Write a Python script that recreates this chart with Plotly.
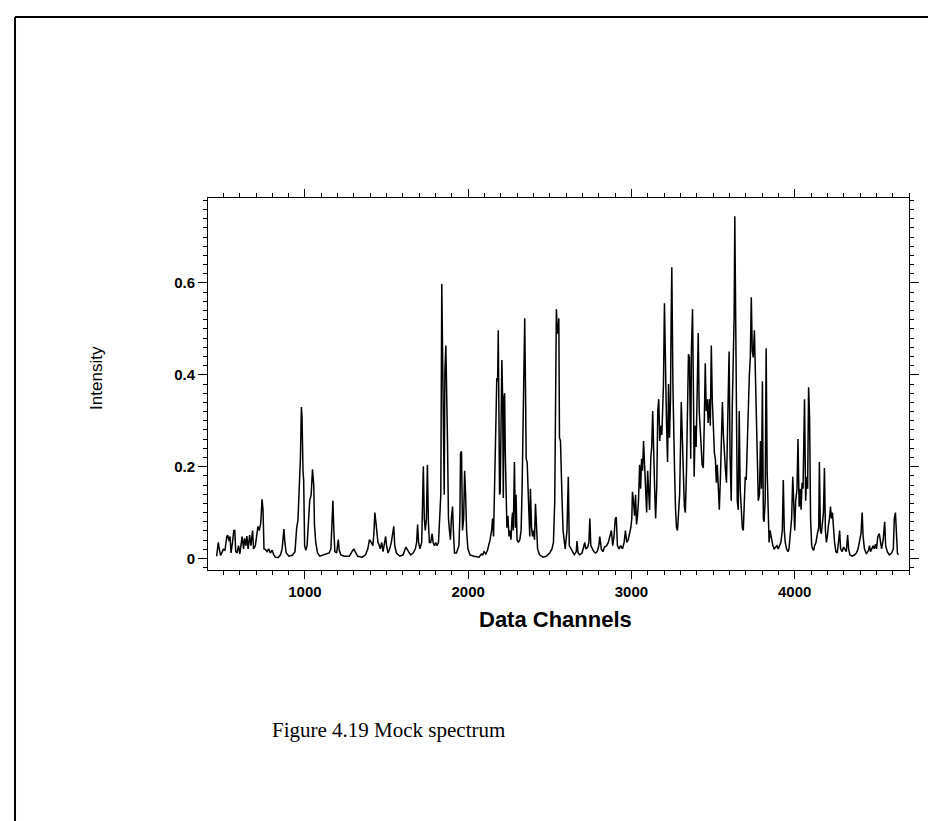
import plotly.graph_objects as go

# ---- spectrum values (channel, intensity) ----
ch_a = [459,463,469,475,483,494,500,510,521,527,535,541,547,556,564,570,576,584,593,601,
        609,615,624,630,638,644,652,661,669,679,685,696,706,712,720,729,737,743,749,757,
        768,778,788,799,809,819,836,850,860,871,877,885,902,922,939,949,957,963,972,978,
        982,988,992,998,1005,1013,1021,1029,1038,1046,1054,1058,1066,1077,1091,1112]
int_a = [0.005,0.025,0.035,0.021,0.007,0.015,0.020,0.018,0.048,0.051,0.038,0.048,0.012,0.035,0.061,
         0.061,0.015,0.012,0.028,0.010,0.041,0.048,0.021,0.044,0.028,0.049,0.021,0.051,0.028,0.061,
         0.021,0.028,0.054,0.070,0.061,0.077,0.129,0.106,0.021,0.020,0.015,0.021,0.012,0.018,0.008,
         0.003,0.002,0.008,0.021,0.064,0.035,0.012,0.005,0.007,0.015,0.067,0.083,0.145,0.217,0.330,
         0.308,0.191,0.171,0.028,0.018,0.028,0.067,0.126,0.139,0.194,0.158,0.074,0.035,0.012,0.005,0.007]

ch_b = [1121,1138,1148,1159,1165,1171,1177,1183,1194,1204,1210,1220,1241,1272,1288,1299,1307,1323,1350,1371,
        1385,1395,1406,1416,1422,1428,1435,1441,1447,1453,1461,1470,1478,1488,1494,1500,1509,1519,1529,1540,
        1544,1550,1560,1581,1601,1618,1626,1634,1647,1663,1676,1684,1690,1696,1704,1715,1721,1725,1731,1737,
        1744,1750,1756,1762,1770,1779,1785,1793,1801,1809,1818,1826,1832,1838,1842,1849,1853,1857,1863]
int_b = [0.008,0.010,0.012,0.021,0.074,0.126,0.061,0.015,0.012,0.041,0.018,0.008,0.005,0.005,0.015,
         0.021,0.015,0.005,0.003,0.008,0.021,0.041,0.035,0.028,0.054,0.100,0.077,0.054,0.035,0.031,
         0.021,0.035,0.015,0.035,0.048,0.028,0.012,0.021,0.035,0.061,0.070,0.028,0.012,0.005,0.008,
         0.025,0.021,0.015,0.008,0.012,0.021,0.035,0.074,0.035,0.021,0.035,0.106,0.201,0.087,0.061,
         0.087,0.204,0.080,0.035,0.035,0.054,0.035,0.028,0.035,0.028,0.035,0.080,0.139,0.598,0.425,
         0.145,0.139,0.406,0.464]

ch_c = [1873,1879,1885,1891,1897,1904,1910,1916,1928,1943,1949,1953,1959,1965,1972,1978,1984,1990,1998,2011,
        2035,2066,2081,2089,2097,2108,2118,2126,2134,2143,2149,2155,2159,2165,2171,2175,2180,2184,2188,2192,
        2196,2202,2206,2211,2215,2219,2223,2227,2233,2237,2243,2250,2256,2262,2268,2272,2276,2283,2289,2293,
        2299,2307,2316,2324,2330,2336,2342,2346,2351,2355,2361,2367,2373,2377,2381,2388,2394,2400,2406,2412,
        2419,2425,2437,2458,2478,2499,2513,2522,2530,2536,2540,2546,2550,2555,2559,2565,2571,2575,2581,2587,2592]
int_c = [0.256,0.087,0.061,0.041,0.087,0.113,0.054,0.012,0.012,0.028,0.093,0.230,0.233,0.061,0.087,
         0.191,0.139,0.061,0.021,0.008,0.005,0.003,0.010,0.008,0.015,0.010,0.018,0.028,0.041,0.061,
         0.087,0.048,0.139,0.217,0.321,0.393,0.386,0.497,0.256,0.139,0.145,0.321,0.432,0.347,0.132,
         0.347,0.360,0.230,0.100,0.067,0.093,0.048,0.061,0.041,0.087,0.100,0.061,0.210,0.067,0.139,
         0.041,0.035,0.041,0.061,0.152,0.295,0.399,0.523,0.367,0.217,0.210,0.165,0.087,0.048,0.152,
         0.067,0.048,0.061,0.041,0.119,0.054,0.021,0.008,0.003,0.005,0.012,0.021,0.035,0.126,0.321,
         0.543,0.491,0.491,0.523,0.263,0.256,0.139,0.126,0.061,0.041,0.021]

ch_d = [2594,2605,2613,2619,2629,2640,2650,2662,2666,2673,2683,2697,2708,2714,2720,2732,2739,2745,2751,2759,
        2769,2780,2790,2800,2806,2815,2825,2835,2848,2858,2868,2877,2885,2893,2901,2907,2914,2924,2934,2945,
        2955,2963,2971,2980,2988,2996,3002,3006,3012,3019,3025,3031,3037,3043,3050,3056,3062,3068,3074,3080,
        3087,3093,3099,3105,3111,3118,3124,3130,3136,3142,3148,3155,3161,3167,3173,3179,3186,3192,3196,3202,
        3208,3214,3221,3227,3233,3239,3243,3247,3254,3258,3264,3270,3276,3282,3289,3295,3301,3305]
int_d = [0.021,0.061,0.178,0.028,0.021,0.012,0.008,0.015,0.038,0.012,0.008,0.012,0.028,0.035,0.021,
         0.025,0.035,0.087,0.028,0.021,0.015,0.012,0.015,0.028,0.048,0.021,0.015,0.025,0.028,0.035,
         0.048,0.061,0.028,0.048,0.087,0.090,0.028,0.021,0.028,0.021,0.035,0.061,0.035,0.041,0.054,
         0.067,0.087,0.145,0.126,0.093,0.139,0.074,0.093,0.126,0.204,0.152,0.217,0.191,0.256,0.204,
         0.152,0.100,0.191,0.158,0.106,0.217,0.243,0.321,0.204,0.152,0.087,0.158,0.321,0.347,0.256,
         0.289,0.269,0.347,0.380,0.556,0.373,0.308,0.210,0.380,0.263,0.347,0.517,0.634,0.373,0.256,
         0.191,0.106,0.067,0.061,0.113,0.139,0.256,0.341]

ch_e = [3324,3330,3337,3343,3349,3355,3359,3363,3367,3374,3380,3384,3390,3396,3402,3409,3415,3421,3427,3433,
        3440,3446,3452,3458,3464,3470,3477,3483,3489,3495,3501,3508,3514,3520,3526,3532,3538,3545,3551,3557,
        3563,3569,3576,3582,3588,3594,3598,3604,3611,3617,3623,3629,3633,3639,3643,3648,3654,3660,3666,3672,
        3679,3685,3691,3697,3703,3709,3716,3722,3728,3734,3740,3746,3753,3759,3765,3771,3777,3784,3790,3796,
        3802,3808,3812,3819,3825,3831,3837,3843,3849,3858,3866,3874,3882,3891,3899,3907,3915,3924,3930,3936,
        3942,3950,3959,3965,3973,3981,3988,3994,4000,4006,4014,4020,4027,4033,4039,4045,4051,4060]
int_e = [0.113,0.100,0.191,0.321,0.445,0.438,0.347,0.217,0.451,0.543,0.347,0.178,0.289,0.243,0.354,
         0.491,0.321,0.263,0.243,0.204,0.197,0.295,0.425,0.321,0.347,0.295,0.347,0.289,0.464,0.347,
         0.289,0.230,0.217,0.165,0.204,0.158,0.106,0.178,0.276,0.341,0.269,0.217,0.191,0.165,0.295,
         0.334,0.451,0.223,0.126,0.321,0.471,0.530,0.745,0.523,0.347,0.126,0.106,0.321,0.152,0.093,
         0.067,0.061,0.139,0.178,0.171,0.256,0.347,0.399,0.438,0.569,0.451,0.438,0.497,0.386,0.321,
         0.223,0.126,0.139,0.256,0.152,0.386,0.087,0.080,0.126,0.458,0.191,0.074,0.035,0.061,0.041,
         0.028,0.021,0.025,0.028,0.021,0.028,0.035,0.061,0.171,0.061,0.035,0.021,0.015,0.021,0.061,
         0.087,0.178,0.113,0.061,0.126,0.152,0.260,0.113,0.152,0.106,0.165,0.152,0.347]

ch_f = [4067,4073,4079,4085,4091,4097,4104,4110,4116,4122,4130,4139,4147,4151,4157,4163,4170,4176,4182,4188,
        4194,4200,4207,4213,4219,4225,4231,4238,4244,4252,4260,4268,4275,4281,4291,4299,4308,4316,4324,4330,
        4338,4351,4363,4378,4388,4398,4406,4413,4419,4427,4439,4452,4458,4464,4472,4481,4487,4495,4501,4509,
        4518,4524,4532,4542,4551,4557,4567,4579,4594,4604,4610,4617,4623,4629,4635]
int_f = [0.126,0.178,0.152,0.373,0.308,0.087,0.028,0.021,0.018,0.028,0.035,0.054,0.067,0.210,0.061,
         0.054,0.087,0.100,0.197,0.061,0.035,0.048,0.074,0.087,0.113,0.087,0.100,0.061,0.035,0.015,
         0.012,0.035,0.061,0.021,0.015,0.025,0.021,0.015,0.051,0.021,0.008,0.005,0.007,0.012,0.021,
         0.041,0.054,0.100,0.048,0.021,0.010,0.018,0.028,0.015,0.021,0.028,0.021,0.031,0.021,0.048,
         0.054,0.035,0.021,0.041,0.080,0.028,0.015,0.008,0.012,0.021,0.087,0.100,0.061,0.012,0.008]

x_tick_vals = [1000, 2000, 3000, 4000]
y_tick_vals = [0, 0.2, 0.4, 0.6]
y_tick_text = ["0", "0.2", "0.4", "0.6"]

channels = ch_a + ch_b + ch_c + ch_d + ch_e + ch_f
intensity = int_a + int_b + int_c + int_d + int_e + int_f

fig = go.Figure()
fig.add_trace(go.Scatter(x=channels, y=intensity, mode="lines",
                         line=dict(color="black", width=1.5), showlegend=False))

tickfont = dict(family="Liberation Sans, Arial, sans-serif", size=15, color="black", weight="bold")

fig.update_layout(
    width=936, height=821, autosize=False,
    paper_bgcolor="white", plot_bgcolor="white",
    margin=dict(l=200, r=35, t=190, b=259),
    xaxis=dict(range=[406, 4700], tickmode="array", tickvals=x_tick_vals,
               ticks="outside", ticklen=8, tickwidth=1, tickcolor="black",
               showline=True, linecolor="black", linewidth=1, mirror="ticks",
               showgrid=False, zeroline=False, tickfont=tickfont,
               minor=dict(dtick=100, tick0=0, ticks="outside", ticklen=4,
                          tickcolor="black", tickwidth=1, showgrid=False)),
    yaxis=dict(range=[-0.025, 0.785], tickmode="array", tickvals=y_tick_vals, ticktext=y_tick_text,
               ticks="outside", ticklen=9, tickwidth=1, tickcolor="black",
               showline=True, linecolor="black", linewidth=1, mirror="ticks",
               showgrid=False, zeroline=False, tickfont=tickfont,
               minor=dict(dtick=0.02, tick0=0, ticks="outside", ticklen=4,
                          tickcolor="black", tickwidth=1, showgrid=False)),
)

# axis titles and caption
fig.add_annotation(text="Data Channels", xref="paper", yref="paper", x=0.496, y=-0.134,
                   showarrow=False, xanchor="center", yanchor="middle",
                   font=dict(family="Liberation Sans, Arial, sans-serif", size=22, color="black", weight="bold"))
fig.add_annotation(text="Intensity", xref="paper", yref="paper", x=-0.16, y=0.516,
                   showarrow=False, textangle=-90, xanchor="center", yanchor="middle",
                   font=dict(family="Liberation Sans, Arial, sans-serif", size=17, color="black"))
fig.add_annotation(text="Figure 4.19 Mock spectrum", xref="paper", yref="paper", x=0.258, y=-0.43,
                   showarrow=False, xanchor="center", yanchor="middle",
                   font=dict(family="Liberation Serif, Times New Roman, serif", size=21, color="black"))

# outer page frame (left and top edges)
fig.add_shape(type="line", xref="paper", yref="paper", x0=-0.2753, x1=-0.2753, y0=-0.70, y1=1.4866,
              line=dict(color="black", width=2))
fig.add_shape(type="line", xref="paper", yref="paper", x0=-0.2753, x1=1.06, y0=1.4866, y1=1.4866,
              line=dict(color="black", width=2))

fig.write_html("out.html")
